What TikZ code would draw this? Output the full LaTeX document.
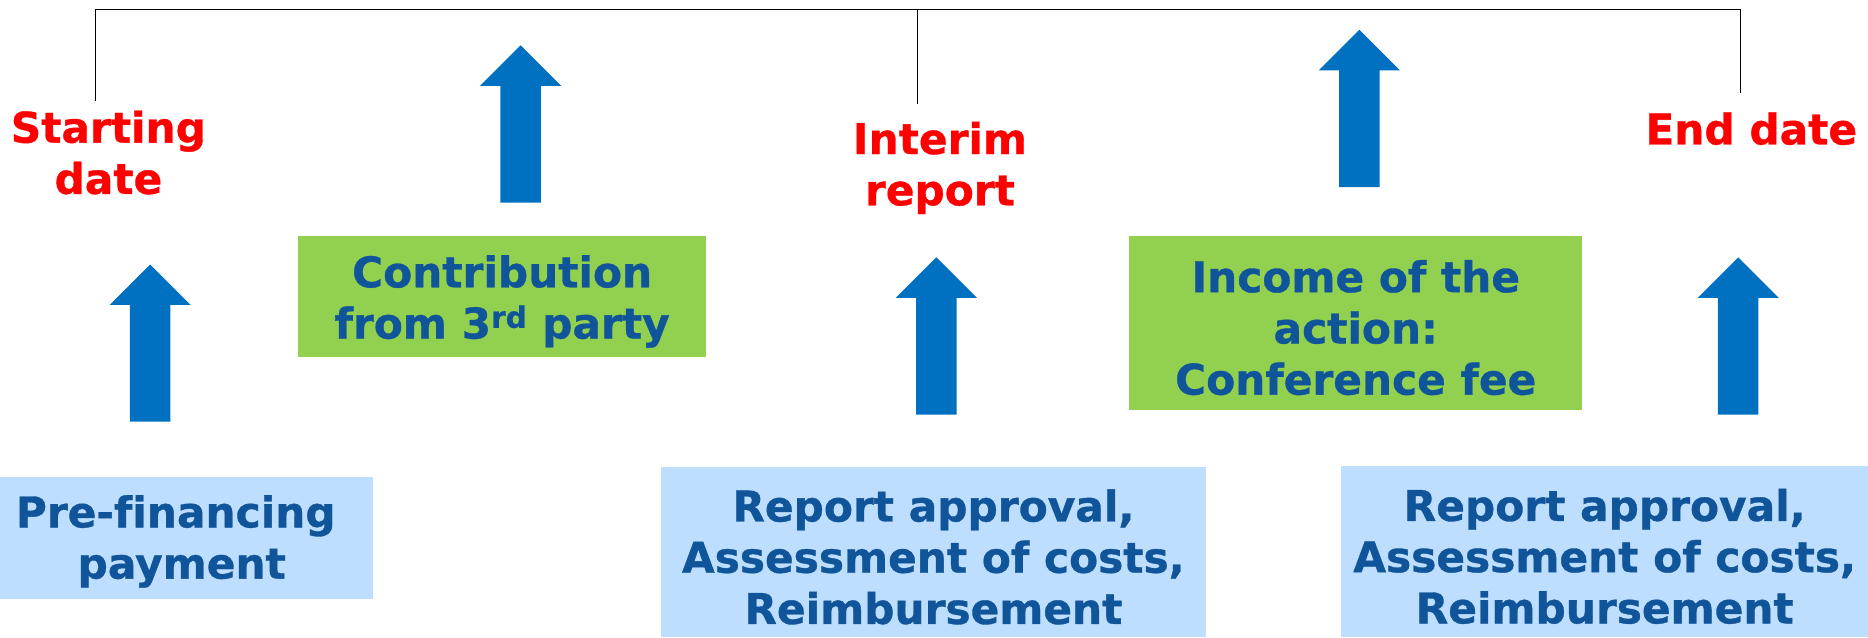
\documentclass[tikz,border=0pt]{standalone}
\usepackage{fontspec}
\setmainfont[Ligatures=NoCommon, BoldFeatures={FakeBold=0.8}]{DejaVu Sans}
\definecolor{arrowblue}{HTML}{0070C0}
\definecolor{boxgreen}{HTML}{92D050}
\definecolor{boxblue}{HTML}{BDDEFE}
\definecolor{textblue}{HTML}{10559A}
\definecolor{datered}{HTML}{FF0000}
\tikzset{
  bigtext/.style={font=\bfseries\fontsize{35.5}{43}\selectfont, align=center, inner sep=0pt},
  datelabel/.style={bigtext, text=datered},
  boxtext/.style={bigtext, text=textblue},
  greenbox/.style={fill=boxgreen, inner sep=0pt},
  bluebox/.style={fill=boxblue, inner sep=0pt},
  blockarrow/.style={fill=arrowblue},
  bracket/.style={draw=black, line width=1.3pt}
}
\newcommand{\blockup}[4]{% name, center x, top y, bottom y
  \fill[blockarrow] (#2-17,#4) -- (#2-17,#3+34) -- (#2-34,#3+34) -- (#2,#3) -- (#2+34,#3+34) -- (#2+17,#3+34) -- (#2+17,#4) -- cycle;
  \coordinate (#1) at (#2,#3);
}
\begin{document}
\begin{tikzpicture}[x=1pt,y=-1pt]
\useasboundingbox (0,0) rectangle (1568,535.5);

% bracket
\coordinate (bl) at (80,85);
\coordinate (bm) at (770,87);
\coordinate (br) at (1461,78);
\coordinate (tl) at (80,8);
\coordinate (tm) at (770,8);
\coordinate (tr) at (1461,8);
\draw[bracket] (bl) -- (tl) -- (tr) -- (br);
\draw[bracket] (tm) -- (bm);

% date labels
\node[datelabel] (start) at (91,128) {Starting\\date};
\node[datelabel] (interim) at (789,141) {Interim\\report};
\node[datelabel] (enddate) at (1470,108) {End date};

% arrows
\blockup{a1}{126}{222}{354}
\blockup{a2}{437}{38}{170}
\blockup{a3}{786}{216}{348}
\blockup{a4}{1141}{25}{157}
\blockup{a5}{1459}{216}{348}

% green boxes
\node[greenbox, minimum width=343pt, minimum height=102pt] (contrib) at (421.5,249) {};
\node[boxtext] (contribT) at ([yshift=-4pt]contrib.center) {Contribution\\from 3\textsuperscript{rd} party};
\node[greenbox, minimum width=380pt, minimum height=146pt] (income) at (1138,271) {};
\node[boxtext] (incomeT) at ([yshift=-4pt]income.center) {Income of the\\action:\\Conference fee};

% blue boxes
\node[bluebox, minimum width=313pt, minimum height=103pt] (prefin) at (156.5,451.5) {};
\node[boxtext] (prefinT) at ([xshift=-4pt,yshift=-3pt]prefin.center) {Pre-financing\hspace*{10pt}\\payment};
\node[bluebox, minimum width=457pt, minimum height=143pt] (report1) at (783.5,463.5) {};
\node[boxtext] (report1T) at ([yshift=-4pt]report1.center) {Report approval,\\Assessment of costs,\\Reimbursement};
\node[bluebox, minimum width=442pt, minimum height=144pt] (report2) at (1347,463) {};
\node[boxtext] (report2T) at ([yshift=-4pt]report2.center) {Report approval,\\Assessment of costs,\\Reimbursement};
\end{tikzpicture}
\end{document}
